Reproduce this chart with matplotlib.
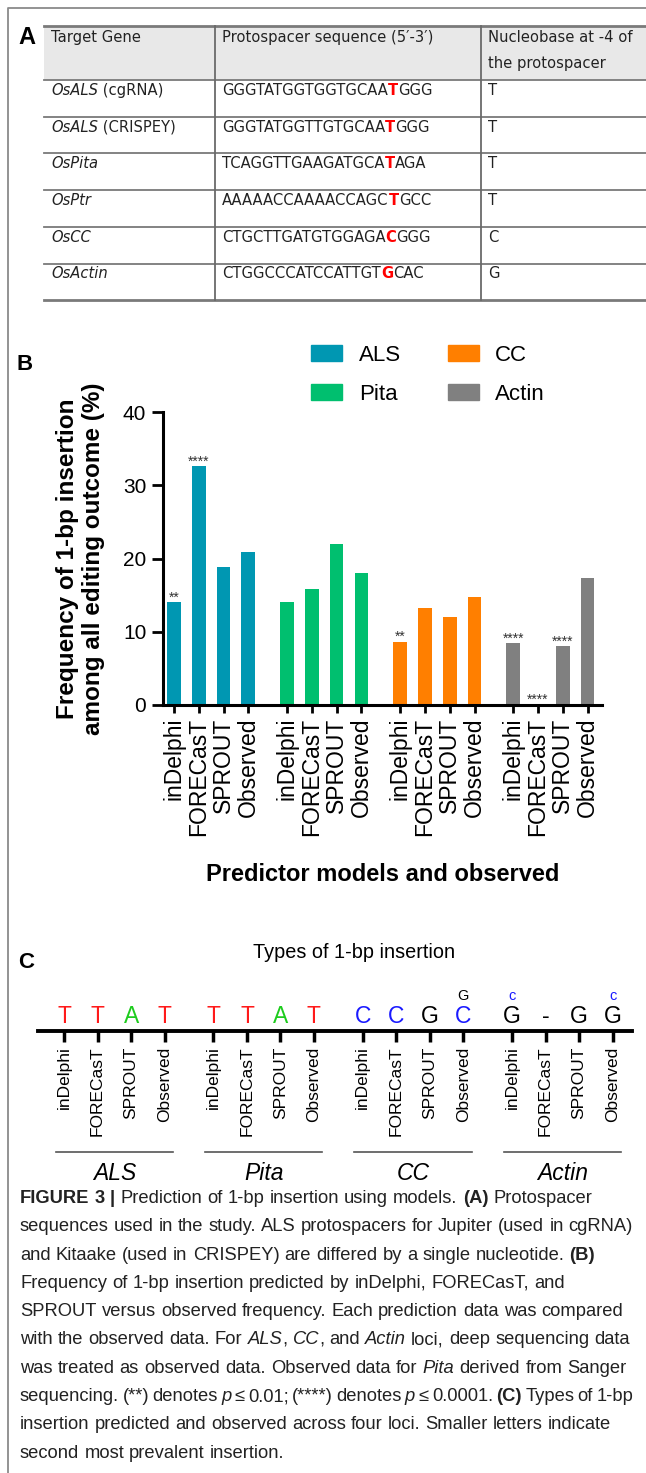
import matplotlib
matplotlib.use("Agg")
import matplotlib.pyplot as plt
from matplotlib.patches import Patch, Rectangle
import numpy as np

plt.rcParams['font.family'] = ['Liberation Sans', 'DejaVu Sans']

# panel A - protospacer table
gene_names = ["OsALS", "OsALS", "OsPita", "OsPtr", "OsCC", "OsActin"]
gene_notes = [" (cgRNA)", " (CRISPEY)", "", "", "", ""]
protospacers = ["GGGTATGGTGGTGCAATGGG", "GGGTATGGTTGTGCAATGGG",
                "TCAGGTTGAAGATGCATAGA", "AAAAACCAAAACCAGCTGCC",
                "CTGCTTGATGTGGAGACGGG", "CTGGCCCATCCATTGTGCAC"]
target_idx = 16  # the -4 position
nucleobases = ["T", "T", "T", "T", "C", "G"]
header_cols = [["Target Gene"], ["Protospacer sequence (5′-3′)"],
               ["Nucleobase at -4 of", "the protospacer"]]

# panel B - 1-bp insertion frequency (%)
loci = ["ALS", "Pita", "CC", "Actin"]
models = ["inDelphi", "FORECasT", "SPROUT", "Observed"]
freq_als = [14.0, 32.6, 18.9, 20.9]
freq_pita = [14.0, 15.9, 22.0, 18.0]
freq_cc = [8.6, 13.2, 12.0, 14.8]
freq_actin = [8.4, 0.0, 8.0, 17.3]
sig_als = ["**", "****", "", ""]
sig_pita = ["", "", "", ""]
sig_cc = ["**", "", "", ""]
sig_actin = ["****", "****", "****", ""]
loci_colors = ["#0097B2", "#00BF6F", "#FF7F00", "#808080"]

# panel C - inserted base (main / second most prevalent)
ins_als = ["T", "T", "A", "T"]
ins_pita = ["T", "T", "A", "T"]
ins_cc = ["C", "C", "G", "C"]
ins_actin = ["G", "-", "G", "G"]
second_als = ["", "", "", ""]
second_pita = ["", "", "", ""]
second_cc = ["", "", "", "G"]
second_actin = ["c", "", "", "c"]
base_colors = {"T": "#FF1A1A", "A": "#1ECC1E", "C": "#1A1AFF", "c": "#1A1AFF",
               "G": "black", "-": "black"}

caption = [
    "§FIGURE 3 |§ Prediction of 1-bp insertion using models. §(A)§ Protospacer",
    "sequences used in the study. ALS protospacers for Jupiter (used in cgRNA)",
    "and Kitaake (used in CRISPEY) are differed by a single nucleotide. §(B)§",
    "Frequency of 1-bp insertion predicted by inDelphi, FORECasT, and",
    "SPROUT versus observed frequency. Each prediction data was compared",
    "with the observed data. For ~ALS~, ~CC~, and ~Actin~ loci, deep sequencing data",
    "was treated as observed data. Observed data for ~Pita~ derived from Sanger",
    "sequencing. (**) denotes ~p~ ≤ 0.01; (****) denotes ~p~ ≤ 0.0001. §(C)§ Types of 1-bp",
    "insertion predicted and observed across four loci. Smaller letters indicate",
    "second most prevalent insertion.",
]

W, H = 646, 1473
fig = plt.figure(figsize=(W / 100, H / 100), dpi=100)
bg = fig.add_axes([0, 0, 1, 1])
bg.set_xlim(0, W)
bg.set_ylim(H, 0)
bg.axis("off")
renderer = fig.canvas.get_renderer()


def box(x0, y0, x1, y1):
    return [x0 / W, 1 - y1 / H, (x1 - x0) / W, (y1 - y0) / H]


def width_of(t):
    return t.get_window_extent(renderer).width


def draw_runs(x, y, runs, **kw):
    for s, style in runs:
        t = bg.text(x, y, s, va="baseline", **style, **kw)
        x += width_of(t)
    return x


# outer frame
bg.plot([8, 8, W], [H, 8, 8], color="#8a8a8a", lw=1.3)

# ---------------- A ----------------
bg.text(18, 37, "A", fontsize=17, fontweight="bold", va="center")
tab_font = dict(family="DejaVu Sans", fontsize=10.6)
col_x = [44, 215, 481]
tab_top, head_bot, row_h = 26, 80, 36.7
n_rows = len(gene_names)
tab_bot = head_bot + n_rows * row_h
bg.add_patch(Rectangle((44, tab_top), W - 44, head_bot - tab_top, color="#e8e8e8", lw=0))
for k in range(n_rows + 2):
    y = tab_top if k == 0 else head_bot + (k - 1) * row_h
    bg.plot([44, W], [y, y], color="#7a7a7a", lw=2 if k in (0, n_rows + 1) else 1.3)
for x in col_x[1:]:
    bg.plot([x, x], [tab_top, tab_bot], color="#6a6a6a", lw=1.3)
for cx, lines in zip(col_x, header_cols):
    for j, s in enumerate(lines):
        bg.text(cx + 7, 42 + j * 26, s, va="baseline", color="#222", **tab_font)
for i in range(n_rows):
    yb = head_bot + i * row_h + 15
    draw_runs(col_x[0] + 7, yb, [(gene_names[i], dict(style="italic")), (gene_notes[i], {})],
              color="#222", **tab_font)
    seq = protospacers[i]
    draw_runs(col_x[1] + 7, yb, [(seq[:target_idx], dict(color="#222")),
                                (seq[target_idx], dict(color="red", fontweight="bold")),
                                (seq[target_idx + 1:], dict(color="#222"))], **tab_font)
    bg.text(col_x[2] + 7, yb, nucleobases[i], va="baseline", color="#222", **tab_font)

# ---------------- B ----------------
bg.text(16, 364, "B", fontsize=16, fontweight="bold", va="center")
ax = fig.add_axes(box(163, 412, 602, 705))
group_gap = 4.56
freqs = [freq_als, freq_pita, freq_cc, freq_actin]
sigs = [sig_als, sig_pita, sig_cc, sig_actin]
xpos, xlab = [], []
for g in range(len(loci)):
    xs = g * group_gap + np.arange(len(models))
    ax.bar(xs, freqs[g], width=0.55, color=loci_colors[g])
    for x, v, s in zip(xs, freqs[g], sigs[g]):
        if s:
            ax.text(x, v + 0.1, s, ha="center", va="baseline", fontsize=10, color="#333")
    xpos += list(xs)
    xlab += models
ax.set_xlim(-0.44, 17.26)
ax.set_ylim(0, 40)
ax.set_yticks([0, 10, 20, 30, 40])
ax.set_xticks(xpos)
ax.set_xticklabels(xlab, rotation=90, fontsize=16.5)
ax.tick_params(axis="y", labelsize=15, length=8, width=2, pad=4)
ax.tick_params(axis="x", length=6, width=2, pad=3)
for sp in ["top", "right"]:
    ax.spines[sp].set_visible(False)
for sp in ["left", "bottom"]:
    ax.spines[sp].set_linewidth(2.2)
ax.set_ylabel("Frequency of 1-bp insertion\namong all editing outcome (%)",
              fontsize=17.5, fontweight="bold", labelpad=13, linespacing=1.15)
ax.set_xlabel("Predictor models and observed", fontsize=17, fontweight="bold", labelpad=20)
handles = [Patch(color=c) for c in loci_colors]
ax.legend(handles, loci, ncol=2, frameon=False, fontsize=16, handlelength=1.4,
          handleheight=0.75, handletextpad=0.75, columnspacing=2.1, labelspacing=0.8,
          borderpad=0, borderaxespad=0, loc="upper left",
          bbox_to_anchor=(311 / W, 1 - 345 / H), bbox_transform=fig.transFigure)

# ---------------- C ----------------
bg.text(18, 962, "C", fontsize=16, fontweight="bold", va="center")
bg.text(354, 952, "Types of 1-bp insertion", fontsize=14.3, ha="center", va="center")
axc = fig.add_axes(box(38, 985, 632, 1031))
cgap = 4.46
ins = [ins_als, ins_pita, ins_cc, ins_actin]
second = [second_als, second_pita, second_cc, second_actin]
cpos = []
for g in range(len(loci)):
    xs = g * cgap + np.arange(len(models))
    for x, b, b2 in zip(xs, ins[g], second[g]):
        axc.text(x, 0.17, b, ha="center", va="baseline", fontsize=16.5, color=base_colors[b])
        if b2:
            axc.text(x, 0.67, b2, ha="center", va="baseline", fontsize=10.5, color=base_colors[b2])
    tr = axc.get_xaxis_transform()
    axc.plot([xs[0] - 0.25, xs[-1] + 0.25], [-2.63, -2.63], color="#555", lw=1.2,
             transform=tr, clip_on=False)
    axc.text(xs.mean(), -3.09, loci[g], transform=tr, ha="center", va="center",
             fontsize=16.5, style="italic")
    cpos += list(xs)
axc.set_xlim(-0.78, 16.96)
axc.set_ylim(0, 1)
axc.set_yticks([])
axc.set_xticks(cpos)
axc.set_xticklabels(models * len(loci), rotation=90, fontsize=12.5)
axc.tick_params(axis="x", length=8, width=2.5, pad=3)
for sp in ["top", "right", "left"]:
    axc.spines[sp].set_visible(False)
axc.spines["bottom"].set_linewidth(2.8)
axc.patch.set_alpha(0)

# ---------------- caption (ragged right, tight lines squeezed) ----------------
cap_font = dict(fontsize=13.2, color="#222")
t1 = bg.text(0, -50, "aa", **cap_font)
t2 = bg.text(0, -50, "a a", **cap_font)
space_w = width_of(t2) - width_of(t1)
t1.remove()
t2.remove()
x_left, x_right = 20, 633
bold = italic = False
for li, line in enumerate(caption):
    y = 1203 + li * 28.3
    words = []
    for tok in line.split(" "):
        pieces, cur = [], ""
        for ch in tok:
            if ch in "§~":
                if cur:
                    pieces.append((cur, bold, italic))
                    cur = ""
                if ch == "§":
                    bold = not bold
                else:
                    italic = not italic
            else:
                cur += ch
        if cur:
            pieces.append((cur, bold, italic))
        arts = [bg.text(0, y, s, va="baseline", fontweight="bold" if b else "normal",
                        style="italic" if it else "normal", **cap_font)
                for s, b, it in pieces]
        words.append(arts)
    widths = [sum(width_of(a) for a in w) for w in words]
    gap = min(space_w, (x_right - x_left - sum(widths)) / (len(words) - 1))
    x = x_left
    for arts, w in zip(words, widths):
        xx = x
        for a in arts:
            a.set_x(xx)
            xx += width_of(a)
        x += w + gap

fig.savefig("out.png", dpi=100)
